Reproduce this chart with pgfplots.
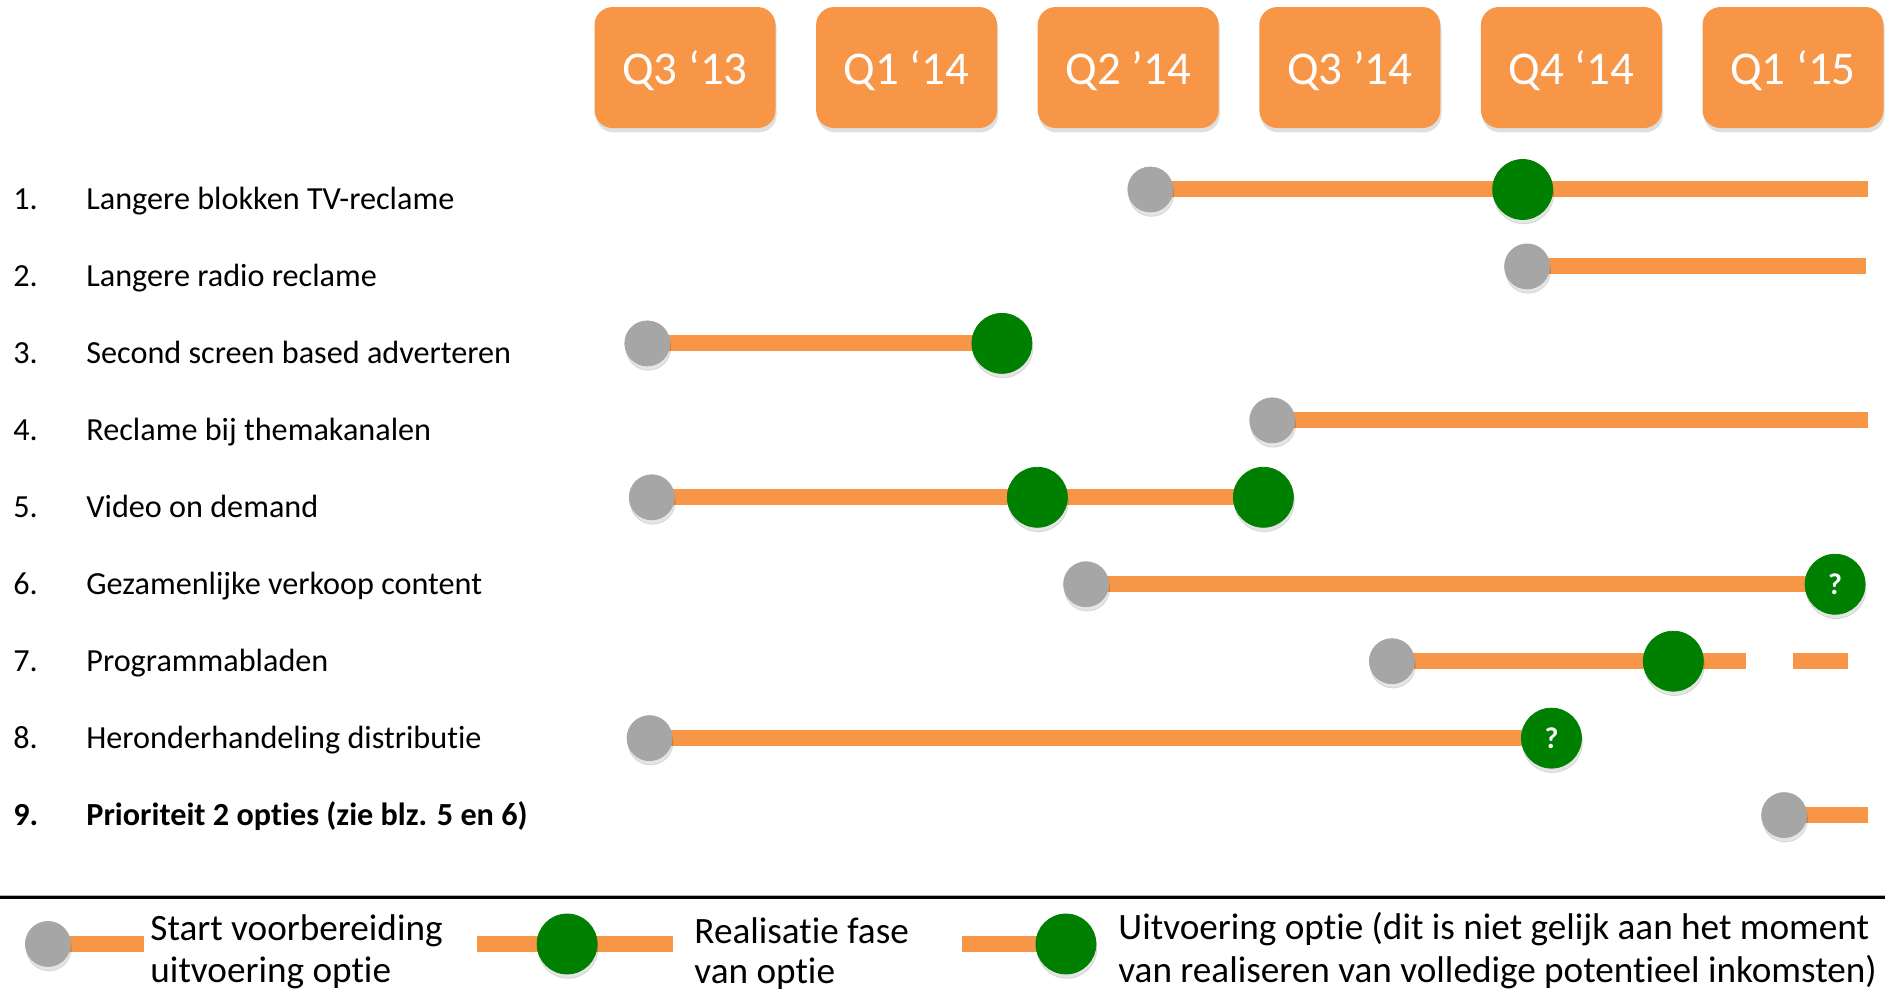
\documentclass[border=0pt]{standalone}
\usepackage{pgfplots}
\pgfplotsset{compat=1.18}
\usepackage{fontspec}
\setmainfont{Carlito}[Ligatures=NoCommon]
\usetikzlibrary{shadows}

\definecolor{barorange}{HTML}{F79646}
\definecolor{mgreen}{HTML}{008000}
\definecolor{mgray}{HTML}{A6A6A6}

\tikzset{
    box/.style={fill=barorange, rounded corners=9pt, minimum width=90.5pt,
        minimum height=60.5pt, text=white, text depth=0pt,
        font=\fontsize{23.5}{23.5}\selectfont,
        drop shadow={opacity=0.25, shadow xshift=0.6pt, shadow yshift=-2.2pt}},
    lbl/.style={anchor=base west, inner sep=0pt, font=\fontsize{16.1}{16.1}\selectfont},
    leg/.style={anchor=base west, inner sep=0pt, font=\fontsize{18.6}{18.6}\selectfont},
}

\begin{document}
\begin{tikzpicture}
\begin{axis}[
    width=942.5pt, height=496.5pt, scale only axis,
    % x: quarters, Q3 '13 = 0 ... Q1 '15 = 5 ; y: row number, top down
    xmin=-3.0912, xmax=5.4152,
    ymin=-1.5926, ymax=11.312, y dir=reverse,
    hide axis, clip=false,
    unbounded coords=jump,
    bar/.style={barorange, line width=8pt, line cap=butt, mark=none},
    start/.style={mgray, only marks, mark=*, mark size=11.25pt,
        mark options={draw=mgray, fill=mgray}},
    done/.style={mgreen, only marks, mark=*, mark size=15pt,
        mark options={draw=mgreen, fill=mgreen}},
    shd/.style={black, opacity=0.1, only marks, mark=*, mark size=#1,
        xshift=0.5pt, yshift=-2.2pt,
        mark options={draw=black, fill=black}},
]

% bars (rows 1-5 sit slightly above their labels)
\addplot[bar] coordinates {
    (2.10,0.87) (5.34,0.87) (nan,nan)
    (3.80,1.87) (5.33,1.87) (nan,nan)
    (-0.17,2.87) (1.43,2.87) (nan,nan)
    (2.65,3.87) (5.34,3.87) (nan,nan)
    (-0.15,4.87) (2.61,4.87) (nan,nan)
    (1.81,6) (5.19,6) (nan,nan)
    (3.19,7) (4.79,7) (nan,nan)
    (5.00,7) (5.25,7) (nan,nan)
    (-0.16,8) (3.91,8) (nan,nan)
    (4.96,9) (5.34,9)
};

% start of preparation
\addplot[shd=11.25pt] coordinates {
    (2.10,0.87) (3.80,1.87) (-0.17,2.87) (2.65,3.87) (-0.15,4.87)
    (1.81,6) (3.19,7) (-0.16,8) (4.96,9)};
\addplot[start] coordinates {
    (2.10,0.87) (3.80,1.87) (-0.17,2.87) (2.65,3.87) (-0.15,4.87)
    (1.81,6) (3.19,7) (-0.16,8) (4.96,9)};

% realisation / execution
\addplot[shd=15pt] coordinates {
    (3.78,0.87) (1.43,2.87) (1.59,4.87) (2.61,4.87) (4.46,7) (5.19,6) (3.91,8)};
\addplot[done] coordinates {
    (3.78,0.87) (1.43,2.87) (1.59,4.87) (2.61,4.87) (4.46,7)};
\addplot[done, nodes near coords={?}, nodes near coords align={center},
    every node near coord/.append style={text=white, text depth=0pt,
        font=\bfseries\fontsize{15}{15}\selectfont}]
    coordinates {(5.19,6) (3.91,8)};

% quarter headers
\node[box] at (axis cs:0,-0.715) {Q3 ‘13};
\node[box] at (axis cs:1,-0.715) {Q1 ‘14};
\node[box] at (axis cs:2,-0.715) {Q2 ’14};
\node[box] at (axis cs:3,-0.715) {Q3 ’14};
\node[box] at (axis cs:4,-0.715) {Q4 ‘14};
\node[box] at (axis cs:5,-0.715) {Q1 ‘15};

% row labels
\node[lbl] at (axis cs:-3.0325,1.135) {\makebox[36.5pt][l]{1.}Langere blokken TV-reclame};
\node[lbl] at (axis cs:-3.0325,2.135) {\makebox[36.5pt][l]{2.}Langere radio reclame};
\node[lbl] at (axis cs:-3.0325,3.135) {\makebox[36.5pt][l]{3.}Second screen based adverteren};
\node[lbl] at (axis cs:-3.0325,4.135) {\makebox[36.5pt][l]{4.}Reclame bij themakanalen};
\node[lbl] at (axis cs:-3.0325,5.135) {\makebox[36.5pt][l]{5.}Video on demand};
\node[lbl] at (axis cs:-3.0325,6.135) {\makebox[36.5pt][l]{6.}Gezamenlijke verkoop content};
\node[lbl] at (axis cs:-3.0325,7.135) {\makebox[36.5pt][l]{7.}Programmabladen};
\node[lbl] at (axis cs:-3.0325,8.135) {\makebox[36.5pt][l]{8.}Heronderhandeling distributie};
\node[lbl] at (axis cs:-3.0325,9.135) {\bfseries\makebox[36.5pt][l]{9.}Prioriteit 2 opties (zie blz. 5 en 6)};

% divider
\draw[black!30, line width=1pt] (axis cs:-3.0912,10.045) -- (axis cs:5.4152,10.045);
\draw[black, line width=1.5pt] (axis cs:-3.0912,10.077) -- (axis cs:5.4152,10.077);

% legend
\addplot[bar] coordinates {
    (-2.875,10.675) (-2.441,10.675) (nan,nan)
    (-0.939,10.675) (-0.054,10.675) (nan,nan)
    (1.250,10.675) (1.602,10.675)};
\addplot[shd=11.25pt] coordinates {(-2.875,10.675)};
\addplot[start] coordinates {(-2.875,10.675)};
\addplot[shd=15pt] coordinates {(-0.532,10.675) (1.719,10.675)};
\addplot[done] coordinates {(-0.532,10.675) (1.719,10.675)};

\node[leg] at (axis cs:-2.414,10.625) {Start voorbereiding};
\node[leg] at (axis cs:-2.414,11.18) {uitvoering optie};
\node[leg] at (axis cs:0.041,10.67) {Realisatie fase};
\node[leg] at (axis cs:0.041,11.19) {van optie};
\node[leg] at (axis cs:1.954,10.62) {Uitvoering optie (dit is niet gelijk aan het moment};
\node[leg] at (axis cs:1.954,11.17) {van realiseren van volledige potentieel inkomsten)};
\end{axis}
\pgfresetboundingbox
\useasboundingbox (current axis.south west) rectangle (current axis.north east);
\end{tikzpicture}
\end{document}
